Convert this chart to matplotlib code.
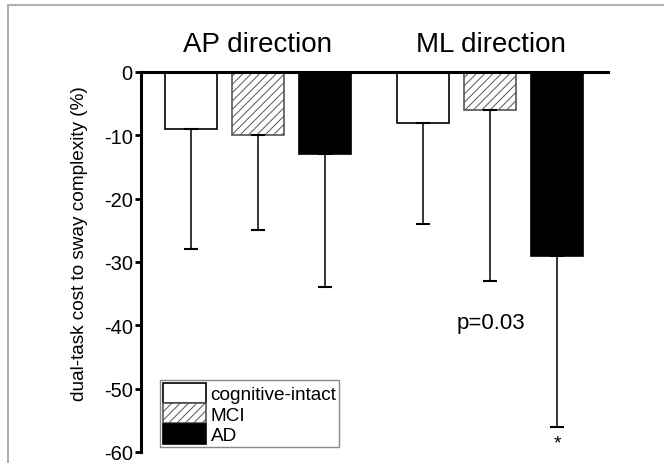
import numpy as np
import matplotlib
matplotlib.use("Agg")
import matplotlib.pyplot as plt
from matplotlib.lines import Line2D

plt.rcParams['font.family'] = ['Liberation Sans', 'DejaVu Sans']
plt.rcParams['axes.unicode_minus'] = False
plt.rcParams['hatch.linewidth'] = 0.7

# data
groups = ["AP direction", "ML direction"]
series = ["cognitive-intact", "MCI", "AD"]
means_ap = [-9, -10, -13]
means_ml = [-8, -6, -29]
sd_ap = [19, 15, 21]
sd_ml = [16, 27, 27]
yticks = [0, -10, -20, -30, -40, -50, -60]

fig = plt.figure(figsize=(6.64, 4.64), dpi=100)
ax = fig.add_axes([141/664, 1-453/464, (608-141)/664, (453-73)/464])

# frame lines of the figure (top and left only)
fig.add_artist(Line2D([8/664, 1], [1-5.5/464, 1-5.5/464], color='#b0b0b0', lw=1.5, transform=fig.transFigure))
fig.add_artist(Line2D([8/664, 8/664], [0, 1-5.5/464], color='#b0b0b0', lw=1.5, transform=fig.transFigure))

centers = [0, 3.47]
offsets = [-1, 0, 1]
width = 0.776
faces = ['white', 'white', 'black']
hatches = [None, '////', None]
edges = ['black', '#555555', 'black']

for gi, (means, sds) in enumerate([(means_ap, sd_ap), (means_ml, sd_ml)]):
    for si in range(3):
        x = centers[gi] + offsets[si]
        ax.bar(x, means[si], width=width, color=faces[si], edgecolor=edges[si],
               hatch=hatches[si], linewidth=1.2, zorder=2,
               label=series[si] if gi == 0 else None)
        ax.errorbar(x, means[si], yerr=[[sds[si]], [0]], fmt='none', ecolor='black',
                    elinewidth=1.1, capsize=5, capthick=1.5, zorder=3)

ax.set_xlim(-1.746, 5.224)
ax.set_ylim(-60, 0)
ax.set_yticks(yticks)
ax.set_yticklabels([str(t) for t in yticks], fontsize=14.5)
ax.set_xticks([])
ax.spines['right'].set_visible(False)
ax.spines['bottom'].set_visible(False)
ax.spines['left'].set_linewidth(2.2)
ax.spines['top'].set_linewidth(2.2)
ax.tick_params(axis='y', direction='out', length=4.5, width=2, pad=1.5)
ax.set_ylabel("dual-task cost to sway complexity (%)", fontsize=13.7, labelpad=6)
ax.yaxis.set_label_coords(-0.113, 0.55)

for gi, g in enumerate(groups):
    ax.text(centers[gi], 4.5, g, ha='center', va='center', fontsize=20, clip_on=False)

ax.text(centers[1], -39.5, "p=0.03", ha='center', va='center', fontsize=16)
ax.text(centers[1] + 1, -58.6, "*", ha='center', va='center', fontsize=14)

leg = ax.legend(loc='lower left', bbox_to_anchor=(19/467, 5/380), fontsize=13.7,
                frameon=True, fancybox=False, edgecolor='#888888', framealpha=1,
                handlelength=2.26, handleheight=1.25, labelspacing=0.0,
                handletextpad=0.25, borderpad=0.15, borderaxespad=0)
leg.get_frame().set_linewidth(1.0)

fig.savefig("out.png", dpi=100)
